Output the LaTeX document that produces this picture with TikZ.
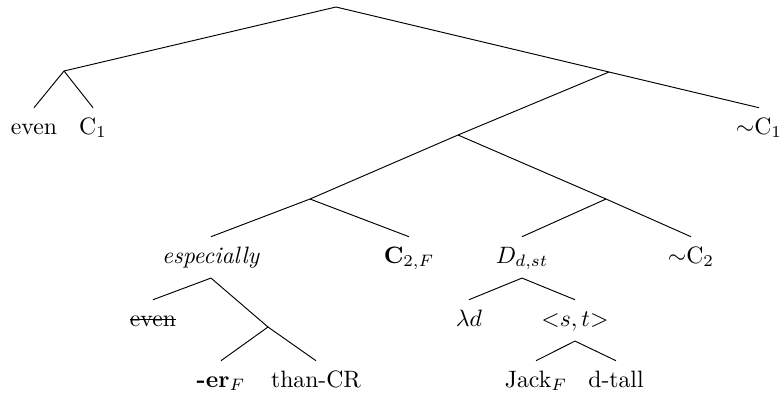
\documentclass[tikz,border=0pt]{standalone}
\newcommand\strk[1]{\setbox0\hbox{#1}\rlap{\rule[0.6ex]{\wd0}{0.4pt}}\box0}
\tikzset{lbl/.style={anchor=base,inner sep=4pt,text height=1.6ex,text depth=.5ex}}
\begin{document}
\begin{tikzpicture}[x=0.422pt,y=-0.422pt]
  \useasboundingbox (0,0) rectangle (782,394);
  \coordinate (root) at (336,7);
  \coordinate (evc) at (64,71);
  \coordinate (main) at (609,72);
  \coordinate (cmp) at (458,135);
  \coordinate (esp) at (310,199);
  \coordinate (deg) at (606,199);
  \coordinate (er) at (268,327);
  \node[lbl] (even) at (34,134) {even};
  \node[lbl] (c1) at (93,134) {C$_1$};
  \node[lbl] (nc1) at (759,134) {$\sim$C$_1$};
  \node[lbl] (especially) at (211,263) {\textit{especially}};
  \node[lbl] (c2f) at (409,263) {$\mathbf{C}_{2,F}$};
  \node[lbl] (dds) at (522,263) {$D_{d,st}$};
  \node[lbl] (nc2) at (691,263) {$\sim$C$_2$};
  \node[lbl] (evenx) at (153,326) {\strk{even}};
  \node[lbl] (lam) at (469,326) {$\lambda d$};
  \node[lbl] (st) at (575,326) {$<$$s,t$$>$};
  \node[lbl] (erf) at (221,387) {\textbf{-er}$_F$};
  \node[lbl] (than) at (316,387) {than-CR};
  \node[lbl] (jack) at (536,387) {Jack$_F$};
  \node[lbl] (dtall) at (616,387) {d-tall};
  \draw (root) -- (evc);
  \draw (root) -- (main);
  \draw (evc) -- (even.north);
  \draw (evc) -- (c1.north);
  \draw (main) -- (cmp);
  \draw (main) -- (nc1.north);
  \draw (cmp) -- (esp);
  \draw (cmp) -- (deg);
  \draw (esp) -- (especially.north);
  \draw (esp) -- (c2f.north);
  \draw (deg) -- (dds.north);
  \draw (deg) -- (nc2.north);
  \draw (especially.south) -- (evenx.north);
  \draw (especially.south) -- (er);
  \draw (er) -- (erf.north);
  \draw (er) -- (than.north);
  \draw (dds.south) -- (lam.north);
  \draw (dds.south) -- (st.north);
  \draw (st.south) -- (jack.north);
  \draw (st.south) -- (dtall.north);
\end{tikzpicture}
\end{document}
